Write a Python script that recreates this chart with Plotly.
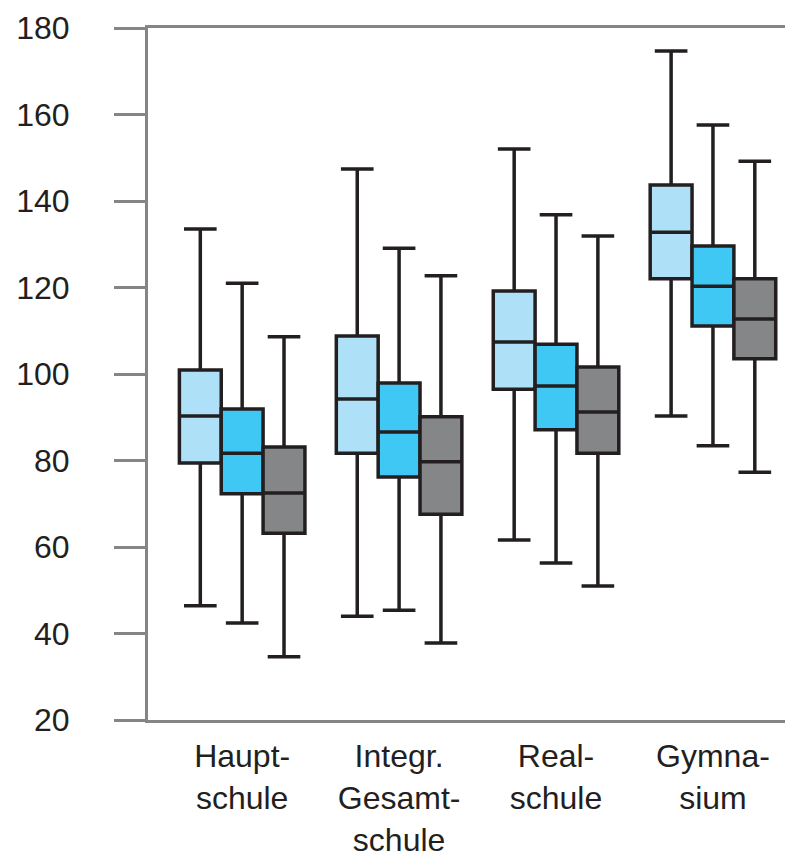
import plotly.graph_objects as go

categories = ["Haupt-<br>schule", "Integr.<br>Gesamt-<br>schule", "Real-<br>schule", "Gymna-<br>sium"]

# series: light blue, mid blue, grey
light_low = [46.4, 44.0, 61.6, 90.3]
light_q1 = [79.4, 81.7, 96.5, 122.0]
light_med = [90.3, 94.2, 107.4, 132.8]
light_q3 = [100.9, 108.8, 119.2, 143.7]
light_high = [133.5, 147.4, 152.0, 174.7]

mid_low = [42.4, 45.4, 56.3, 83.4]
mid_q1 = [72.3, 76.2, 87.1, 111.1]
mid_med = [81.7, 86.6, 97.2, 120.3]
mid_q3 = [91.9, 97.9, 106.9, 129.6]
mid_high = [121.0, 129.1, 136.8, 157.6]

dark_low = [34.6, 37.8, 51.0, 77.3]
dark_q1 = [63.2, 67.6, 81.7, 103.5]
dark_med = [72.5, 79.7, 91.2, 112.7]
dark_q3 = [83.1, 90.1, 101.6, 122.0]
dark_high = [108.6, 122.7, 131.9, 149.2]

y_ticks = [20, 40, 60, 80, 100, 120, 140, 160, 180]

LINE = "#231f20"
GREY = "#858585"
FONT = "Liberation Sans Narrow, Liberation Sans, Arial, sans-serif"

series = [
    ("light", "#aee1f8", light_low, light_q1, light_med, light_q3, light_high),
    ("mid", "#40c8f4", mid_low, mid_q1, mid_med, mid_q3, mid_high),
    ("dark", "#858688", dark_low, dark_q1, dark_med, dark_q3, dark_high),
]

fig = go.Figure()
for name, color, lo, q1, med, q3, hi in series:
    fig.add_trace(go.Box(
        name=name,
        x=categories,
        lowerfence=lo, q1=q1, median=med, q3=q3, upperfence=hi,
        fillcolor=color,
        line=dict(color=LINE, width=3.5),
        whiskerwidth=0.78,
        boxpoints=False,
        showlegend=False,
    ))

fig.update_layout(
    width=785, height=850,
    margin=dict(l=140, r=0, t=20, b=138),
    paper_bgcolor="white", plot_bgcolor="white",
    boxmode="group", boxgap=0.2, boxgroupgap=0,
    font=dict(family=FONT, color=LINE, size=32),
    xaxis=dict(
        type="category",
        range=[-0.6, 3.51],
        showline=True, mirror=True, linecolor=GREY, linewidth=3,
        ticks="", showgrid=False, zeroline=False, automargin=False,
        ticklabelstandoff=6,
        tickfont=dict(family=FONT, size=32, color=LINE),
    ),
    yaxis=dict(
        range=[20, 180],
        tickvals=y_ticks,
        ticktext=[str(v) for v in y_ticks],
        showline=True, linecolor=GREY, linewidth=3,
        ticks="outside", ticklen=31, tickwidth=3, tickcolor=GREY,
        ticklabelstandoff=38, automargin=False,
        showgrid=False, zeroline=False,
        tickfont=dict(family=FONT, size=32, color=LINE),
    ),
)

fig.write_html("out.html")
